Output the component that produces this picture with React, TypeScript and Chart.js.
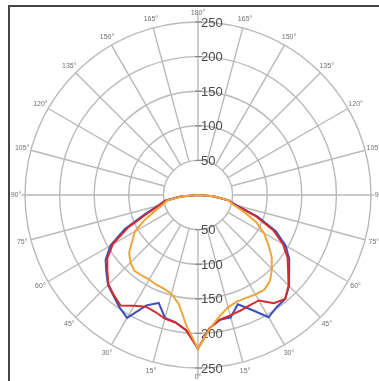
import { useEffect, useRef } from 'react';
import { Chart, registerables } from 'chart.js';

Chart.register(...registerables);

// polar step of the radar categories (degrees)
const STEP = 5;
// gamma angles (0 = straight down) at which each half-curve is read
const gammaSteps = [0, 5, 10, 15, 20, 25, 30, 35, 40, 45, 50, 55, 60, 65, 70, 75, 80, 85, 90];

// intensity values, left half (gamma 0..90)
const blueLeft = [222, 196, 187, 184, 166, 176, 205, 198, 190, 184, 173, 163, 146, 117, 82, 60, 48, 25, 0];
const redLeft = [222, 196, 187, 185, 180, 178, 185, 195, 189, 183, 171, 160, 142, 112, 78, 58, 48, 25, 0];
const goldLeft = [222, 190, 160, 148, 144, 143, 141, 142, 143, 138, 130, 116, 105, 85, 65, 52, 45, 22, 0];

// intensity values, right half (gamma 0..90)
const blueRight = [222, 193, 183, 183, 168, 183, 204, 198, 196, 186, 172, 161, 146, 124, 92, 58, 45, 22, 0];
const redRight = [222, 193, 183, 180, 178, 176, 176, 191, 196, 185, 170, 158, 142, 120, 88, 55, 45, 22, 0];
const goldRight = [222, 194, 178, 168, 164, 164, 166, 167, 162, 151, 139, 124, 110, 93, 70, 52, 45, 22, 0];

// radial tick labels and angular grid
const radialTicks = [50, 100, 150, 200, 250];
const angleGridStep = 15;

const CANVAS_W = 396;
const CANVAS_H = 390;
const OUTER_PX = 173;
const R_MAX = (250 * Math.min(CANVAS_W, CANVAS_H)) / 2 / OUTER_PX;
const LABEL_VALUE = 263;

const N = 360 / STEP;

function gammaOfIndex(i: number): number {
  const theta = i * STEP;
  return theta <= 180 ? 180 - theta : theta - 180;
}

const categories: string[] = Array.from({ length: N }, (_, i) => `${gammaOfIndex(i)}°`);

function buildSeries(left: number[], right: number[]): number[] {
  const out: number[] = [];
  for (let i = 0; i < N; i++) {
    const theta = i * STEP;
    let v = 0;
    if (theta >= 90 && theta <= 180) v = right[gammaSteps.indexOf(180 - theta)];
    else if (theta > 180 && theta <= 270) v = left[gammaSteps.indexOf(theta - 180)];
    out.push(v);
  }
  return out;
}

const polarDecor = {
  id: 'polarDecor',
  beforeDraw(chart: any) {
    const ctx = chart.ctx;
    ctx.save();
    ctx.fillStyle = '#ffffff';
    ctx.fillRect(0, 0, chart.width, chart.height);
    ctx.restore();
  },
  beforeDatasetsDraw(chart: any) {
    const s = chart.scales.r;
    const ctx = chart.ctx;
    const inner = radialTicks[0];
    const outer = radialTicks[radialTicks.length - 1];
    ctx.save();
    ctx.strokeStyle = '#b9b9b9';
    ctx.lineWidth = 1.4;
    for (const v of radialTicks) {
      const d = s.getDistanceFromCenterForValue(v);
      ctx.beginPath();
      ctx.arc(s.xCenter, s.yCenter, d, 0, Math.PI * 2);
      ctx.stroke();
    }
    for (let a = 0; a < 360; a += angleGridStep) {
      const idx = a / STEP;
      const p1 = s.getPointPositionForValue(idx, inner);
      const p2 = s.getPointPositionForValue(idx, a % 180 === 0 ? outer + 12 : a % 90 === 0 ? outer + 5 : outer);
      ctx.beginPath();
      ctx.moveTo(p1.x, p1.y);
      ctx.lineTo(p2.x, p2.y);
      ctx.stroke();
    }
    // tick marks on vertical axis
    ctx.strokeStyle = '#888888';
    ctx.lineWidth = 1.2;
    for (const idx of [0, N / 2]) {
      for (const v of radialTicks) {
        const p = s.getPointPositionForValue(idx, v);
        ctx.beginPath();
        ctx.moveTo(p.x - 3, p.y);
        ctx.lineTo(p.x + 4, p.y);
        ctx.stroke();
      }
    }
    // radial tick labels
    ctx.fillStyle = '#4a4a4a';
    ctx.font = '13px "Liberation Sans", Arial, sans-serif';
    ctx.textAlign = 'left';
    ctx.textBaseline = 'middle';
    for (const idx of [0, N / 2]) {
      for (const v of radialTicks) {
        const p = s.getPointPositionForValue(idx, v);
        ctx.fillText(String(v), p.x + 3, p.y + 1);
      }
    }
    // angle labels
    ctx.fillStyle = '#707070';
    ctx.font = '7px "Liberation Sans", Arial, sans-serif';
    ctx.textAlign = 'center';
    for (let a = 0; a < 360; a += angleGridStep) {
      const idx = a / STEP;
      const p = s.getPointPositionForValue(idx, LABEL_VALUE);
      ctx.fillText(categories[idx], p.x, p.y);
    }
    ctx.restore();
  },
  afterDraw(chart: any) {
    const ctx = chart.ctx;
    ctx.save();
    ctx.strokeStyle = '#444444';
    ctx.lineWidth = 2;
    ctx.strokeRect(9, 6, 420, 420);
    ctx.restore();
  },
};

export default function App() {
  const ref = useRef<HTMLCanvasElement | null>(null);
  useEffect(() => {
    if (!ref.current) return;
    const chart = new Chart(ref.current, {
      type: 'radar',
      data: {
        labels: categories,
        datasets: [
          { label: 'C3', data: buildSeries(goldLeft, goldRight), borderColor: '#f0a53a', borderWidth: 2 },
          { label: 'C2', data: buildSeries(redLeft, redRight), borderColor: '#d42b2e', borderWidth: 2 },
          { label: 'C1', data: buildSeries(blueLeft, blueRight), borderColor: '#3b4fb8', borderWidth: 2 },
        ],
      },
      options: {
        animation: false,
        responsive: false,
        events: [],
        elements: {
          point: { radius: 0 },
          line: { tension: 0, fill: false },
        },
        plugins: { legend: { display: false }, tooltip: { enabled: false } },
        scales: {
          r: {
            min: 0,
            max: R_MAX,
            ticks: { display: false },
            grid: { display: false },
            angleLines: { display: false },
            pointLabels: { display: false },
          },
        },
      },
      plugins: [polarDecor],
    });
    return () => chart.destroy();
  }, []);
  return (
    <div style={{ position: 'fixed', left: 0, top: 0, width: 379, height: 381, overflow: 'hidden', background: '#fff' }}>
      <canvas ref={ref} width={CANVAS_W} height={CANVAS_H} style={{ display: 'block' }} />
    </div>
  );
}
